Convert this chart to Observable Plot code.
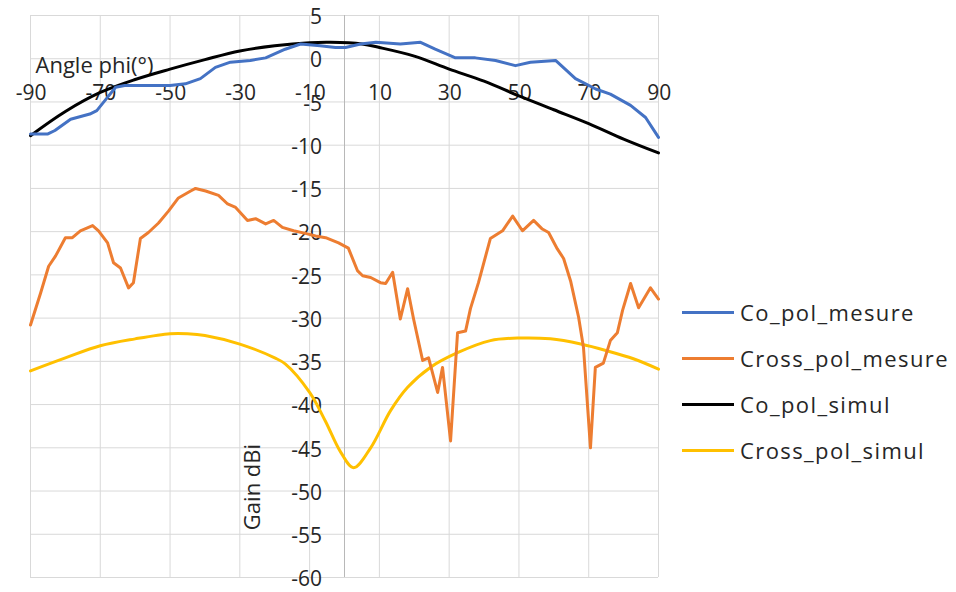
<!DOCTYPE html>
<html>
<head>
<meta charset="utf-8">
<script src="https://cdn.jsdelivr.net/npm/d3@7"></script>
<script src="https://cdn.jsdelivr.net/npm/@observablehq/plot@0.6"></script>
<style>
  html, body { margin: 0; padding: 0; background: #fff; }
  #wrap { position: relative; width: 956px; height: 592px; font-family: "Open Sans", sans-serif; }
  #legend { position: absolute; left: 682px; top: 289px; }
  .item { display: flex; align-items: center; height: 46px; font-size: 22px; letter-spacing: 1.4px; color: #262626; white-space: nowrap; }
  .swatch { width: 52px; height: 3px; margin-right: 6px; }
</style>
</head>
<body>
<div id="wrap"><div id="chart"></div><div id="legend"></div></div>
<script>
// ---- data ----
const seriesNames = ["Co_pol_mesure", "Cross_pol_mesure", "Co_pol_simul", "Cross_pol_simul"];
const seriesColors = ["#4472C4", "#ED7D31", "#000000", "#FFC000"];

const xTickLabels = [-90, -70, -50, -30, -10, 10, 30, 50, 70, 90];
const yTickLabels = [5, 0, -5, -10, -15, -20, -25, -30, -35, -40, -45, -50, -55, -60];

const coMesAngle = [-90, -85, -83, -78.5, -73, -71, -68, -65.6, -63, -56, -50, -45.6, -41.3, -37, -32.7, -27, -22.6, -17, -12.6, -7, -2.6, 0.3, 4.6, 9, 16, 21.8, 26, 31.8, 37.5, 43.3, 49, 53.3, 60.5, 66.2, 72, 76.2, 82, 86.3, 90];
const coMes      = [-8.7, -8.7, -8.3, -7.0, -6.4, -6.0, -4.5, -3.3, -3.1, -3.1, -3.1, -2.9, -2.3, -1.0, -0.4, -0.2, 0.1, 1.1, 1.7, 1.5, 1.3, 1.3, 1.7, 1.9, 1.7, 1.9, 1.1, 0.1, 0.1, -0.2, -0.8, -0.4, -0.2, -2.3, -3.5, -4.1, -5.4, -6.8, -9.1];

const crossMesAngle = [-90, -87.1, -84.8, -82.8, -80, -78, -75.7, -72.2, -70.5, -67.9, -66.2, -64.2, -61.9, -60.5, -58.5, -56.2, -53.3, -50.4, -47.6, -44.1, -42.7, -39.8, -36.1, -33.5, -31.2, -27.8, -25.5, -22.6, -20.3, -17.8, -14.6, -11.2, -8.3, -5.4, -1.7, 1.1, 3.7, 5.2, 7.5, 10.3, 11.8, 13.8, 16, 18.1, 19.8, 22.4, 24.1, 26.7, 28.1, 30.4, 32.4, 34.7, 36.1, 38.4, 41.8, 45.3, 48.2, 51, 54.2, 56.7, 58.5, 61, 62.8, 64.8, 67.1, 68.5, 70.5, 71.9, 74.2, 76.2, 78.2, 79.7, 82, 84.3, 87.7, 90];
const crossMes      = [-30.8, -27.1, -24, -22.8, -20.7, -20.7, -19.9, -19.3, -19.9, -21.3, -23.6, -24.2, -26.5, -25.9, -20.8, -20.1, -19, -17.6, -16.1, -15.3, -15.0, -15.3, -15.8, -16.8, -17.2, -18.7, -18.5, -19.1, -18.7, -19.5, -19.9, -20.2, -20.5, -20.7, -21.3, -21.9, -24.5, -25.1, -25.3, -25.9, -26, -24.7, -30.1, -26.6, -30.1, -34.9, -34.6, -38.6, -35.7, -44.2, -31.7, -31.5, -28.9, -25.9, -20.8, -19.9, -18.2, -19.9, -18.7, -19.7, -20.1, -22, -23.1, -25.7, -29.9, -33.4, -45, -35.7, -35.2, -32.6, -31.7, -29.1, -26, -28.8, -26.5, -27.8];

const coSimAngle = [-90, -80, -70, -60, -50, -40, -30, -20, -10, -4, 5, 10, 20, 30, 40, 50, 60, 70, 80, 90];
const coSim      = [-8.9, -6.1, -3.9, -2.4, -1.2, -0.1, 0.9, 1.5, 1.85, 1.9, 1.7, 1.3, 0.3, -1.2, -2.6, -4.3, -5.9, -7.5, -9.3, -10.9];

const crossSimAngle = [-90, -80, -70, -60, -50, -45, -40, -30, -20, -17, -10, -5.5, -1.1, 2.6, 7.5, 13.2, 18.1, 24.6, 32.4, 41.8, 50.4, 59, 67.7, 75.4, 82.8, 90];
const crossSim      = [-36.1, -34.6, -33.2, -32.4, -31.8, -31.8, -32.0, -33.0, -34.6, -35.3, -38.6, -41.9, -45.5, -47.3, -45, -40.7, -38, -35.7, -34, -32.6, -32.3, -32.4, -33, -33.8, -34.7, -35.9];

// ---- build tables ----
const toRows = (xs, ys) => xs.map((x, i) => ({angle: x, gain: ys[i]}));
const coMesRows = toRows(coMesAngle, coMes);
const crossMesRows = toRows(crossMesAngle, crossMes);
const coSimRows = toRows(coSimAngle, coSim);
const crossSimRows = toRows(crossSimAngle, crossSim);

const textColor = "#262626";

const chart = Plot.plot({
  width: 956,
  height: 592,
  marginLeft: 30,
  marginRight: 298,
  marginTop: 15,
  marginBottom: 15,
  style: {fontFamily: "Open Sans, sans-serif", background: "#fff", overflow: "visible"},
  x: {domain: [-90, 90], axis: null},
  y: {domain: [-60, 5], axis: null},
  marks: [
    Plot.ruleX(xTickLabels, {stroke: "#d9d9d9", strokeWidth: 1}),
    Plot.ruleY(yTickLabels, {stroke: "#d9d9d9", strokeWidth: 1}),
    Plot.ruleX([0], {stroke: "#b8b8b8", strokeWidth: 1}),
    Plot.text(yTickLabels, {x: 0, y: d => d, text: d => String(d), textAnchor: "end", dx: -22.5, dy: 2, fontSize: 21, fill: textColor, ariaLabel: "ytick"}),
    Plot.text(xTickLabels, {x: d => d, y: 0, text: d => String(d), dx: 0.7, dy: 35, fontSize: 21, fill: textColor, ariaLabel: "xtick"}),
    Plot.text(["Angle phi(°)"], {x: -90, y: 0, text: d => d, textAnchor: "start", dx: 5, dy: 7, fontSize: 22, fill: textColor, ariaLabel: "xtitle"}),
    Plot.text(["Gain dBi"], {x: 0, y: -50, text: d => d, rotate: -90, dx: -92, dy: -4, fontSize: 22, fill: textColor, ariaLabel: "ytitle"}),
    Plot.line(crossSimRows, {x: "angle", y: "gain", stroke: seriesColors[3], strokeWidth: 3, curve: "catmull-rom"}),
    Plot.line(coSimRows, {x: "angle", y: "gain", stroke: seriesColors[2], strokeWidth: 3, curve: "catmull-rom"}),
    Plot.line(crossMesRows, {x: "angle", y: "gain", stroke: seriesColors[1], strokeWidth: 3, curve: "linear"}),
    Plot.line(coMesRows, {x: "angle", y: "gain", stroke: seriesColors[0], strokeWidth: 3, curve: "linear"})
  ]
});
d3.select(chart).selectAll("g[aria-label='ytick'] text, g[aria-label='xtick'] text").style("letter-spacing", "1.4px");
d3.select(chart).selectAll("g[aria-label='xtitle'] text").style("letter-spacing", "0.6px");
document.getElementById("chart").appendChild(chart);

const legend = document.getElementById("legend");
seriesNames.forEach((name, i) => {
  const item = document.createElement("div");
  item.className = "item";
  const sw = document.createElement("div");
  sw.className = "swatch";
  sw.style.background = seriesColors[i];
  const label = document.createElement("span");
  label.textContent = name;
  item.appendChild(sw);
  item.appendChild(label);
  legend.appendChild(item);
});
</script>
</body>
</html>
